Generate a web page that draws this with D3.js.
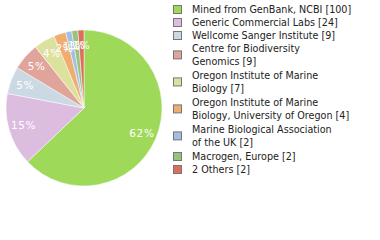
<!DOCTYPE html>
<html>
<head>
<meta charset="utf-8">
<script src="https://cdn.jsdelivr.net/npm/d3@7"></script>
<style>
  body { margin: 0; background: #fff; }
  text { font-family: "DejaVu Sans", Verdana, sans-serif; }
</style>
</head>
<body>
<div class="canvas"></div>
<script>
const labels = [
  ['Mined from GenBank, NCBI [100]'],
  ['Generic Commercial Labs [24]'],
  ['Wellcome Sanger Institute [9]'],
  ['Centre for Biodiversity', 'Genomics [9]'],
  ['Oregon Institute of Marine', 'Biology [7]'],
  ['Oregon Institute of Marine', 'Biology, University of Oregon [4]'],
  ['Marine Biological Association', 'of the UK [2]'],
  ['Macrogen, Europe [2]'],
  ['2 Others [2]']
];
const counts = [100, 24, 9, 9, 7, 4, 2, 2, 2];
const colors = ['#9fd95a', '#dcbcdf', '#cbd9e4', '#e0a49b', '#dde19e',
                '#f0ad70', '#a3bde3', '#98c37a', '#dd6e5a'];

const svg = d3.select('.canvas')
  .append('svg')
  .attr('width', 380)
  .attr('height', 240);

const total = d3.sum(counts);
const radius = 78;

const graph = svg.append('g')
  .attr('transform', 'translate(84, 108)');

const pie = d3.pie().sort(null).value(d => d);
const arc = d3.arc().innerRadius(0).outerRadius(radius);
const labelArc = d3.arc().innerRadius(63).outerRadius(63);

const slices = pie(counts);

graph.selectAll('path')
  .data(slices)
  .enter()
  .append('path')
  .attr('d', arc)
  .attr('fill', (d, i) => colors[i])
  .attr('stroke', '#fff')
  .attr('stroke-width', 0.5);

graph.selectAll('text')
  .data(slices)
  .enter()
  .append('text')
  .attr('transform', d => `translate(${labelArc.centroid(d)})`)
  .attr('text-anchor', 'middle')
  .attr('dy', '0.35em')
  .attr('fill', '#fff')
  .attr('font-size', 10.5)
  .attr('letter-spacing', 0.6)
  .text(d => Math.floor(d.data / total * 100) + '%');

// legend
const legend = svg.append('g');
let y = 9.5;
labels.forEach((lines, i) => {
  const h = lines.length * 12.8;
  const cy = y + (lines.length - 1) * 12.8 / 2;
  legend.append('rect')
    .attr('x', 173.5)
    .attr('y', cy - 4)
    .attr('width', 8)
    .attr('height', 8)
    .attr('fill', colors[i])
    .attr('stroke', '#777')
    .attr('stroke-width', 1);
  lines.forEach((t, j) => {
    legend.append('text')
      .attr('x', 192)
      .attr('y', y + j * 12.8)
      .attr('dy', '0.35em')
      .attr('font-size', 9.6)
      .attr('fill', '#222')
      .text(t);
  });
  y += h + (lines.length > 1 ? 1.4 : 0.2);
});
</script>
</body>
</html>
